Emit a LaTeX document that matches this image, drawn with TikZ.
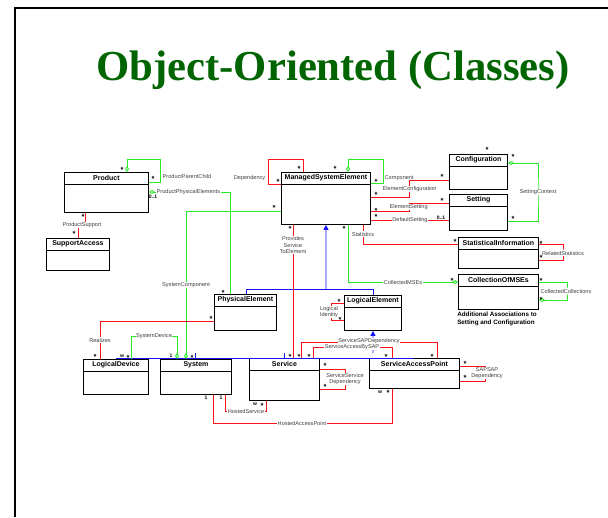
\documentclass[tikz,border=0pt]{standalone}
\usepackage{fontspec}
\setmainfont{Liberation Sans}
\newfontfamily\headfont{Liberation Serif}
\usetikzlibrary{arrows.meta}

\definecolor{assocred}{RGB}{250,20,24}
\definecolor{aggrgreen}{RGB}{40,235,40}
\definecolor{inhblue}{RGB}{20,20,240}
\definecolor{titlegreen}{RGB}{0,100,0}

\newcommand\labfont{\fontsize{5.6}{6.3}\selectfont}

\tikzset{
  umlclass/.style={draw=black, line width=0.9pt, fill=white, inner sep=0pt, rectangle},
  umlhead/.style={font=\bfseries\fontsize{7}{8}\selectfont, inner sep=0pt},
  redline/.style={draw=assocred, line width=0.9pt},
  greenline/.style={draw=aggrgreen, line width=0.9pt},
  blueline/.style={draw=inhblue, line width=0.9pt},
  aggstart/.style={arrows={Diamond[open,length=6pt,width=4pt]-}},
  aggend/.style={arrows={-Diamond[open,length=6pt,width=4pt]}},
  gen/.style={arrows={-Triangle[length=5pt,width=5pt]}},
  lab/.style={font=\labfont, text=black!75, fill=white, inner sep=0.5pt, align=center},
  mult/.style={font=\bfseries\fontsize{7.5}{7.5}\selectfont, inner sep=0pt, yshift=-1.6pt},
  multtxt/.style={font=\bfseries\fontsize{5}{5}\selectfont, inner sep=0pt},
}

% class box: name, left, top, right, bottom, class name
\newcommand\classbox[6]{%
  \node[umlclass, anchor=north west,
        minimum width={(#4-#2)*1pt}, minimum height={(#5-#3)*1pt}] (#1) at (#2,#3) {};
  \draw[line width=0.9pt] ([yshift=-12pt]#1.north west) -- ([yshift=-12pt]#1.north east);
  \node[umlhead] (#1-name) at ([yshift=-6pt]#1.north) {#6};
}

\begin{document}
\begin{tikzpicture}[x=1pt, y=-1pt]
\useasboundingbox (0,0) rectangle (608,517);

% slide frame
\draw[line width=1.5pt] (15,517) -- (15,8) -- (608,8);

\node[font=\headfont\bfseries\fontsize{42.7}{48}\selectfont, text=titlegreen, anchor=base]
  (heading) at (333,80) {Object-Oriented (Classes)};

% classes
\classbox{prod}{64}{172}{148}{212}{Product}
\classbox{supp}{46}{238}{109}{270}{SupportAccess}
\classbox{mse}{281}{172}{370}{224}{ManagedSystemElement}
\classbox{conf}{449}{154}{507}{189}{Configuration}
\classbox{sett}{449}{194}{507}{230}{Setting}
\classbox{stat}{458}{237}{538}{268}{StatisticalInformation}
\classbox{coll}{458}{274}{538}{309}{CollectionOfMSEs}
\classbox{phys}{214}{294}{276}{330}{PhysicalElement}
\classbox{logi}{344}{295}{401}{330}{LogicalElement}
\classbox{ldev}{83}{359}{148}{394}{LogicalDevice}
\classbox{sys}{160}{359}{231}{394}{System}
\classbox{serv}{249}{358}{319}{400}{Service}
\classbox{sap}{369}{358}{459}{388}{ServiceAccessPoint}

\node[font=\bfseries\fontsize{6.3}{7.3}\selectfont, align=left, inner sep=0pt]
  (note) at (497,319) {Additional Associations to\\Setting and Configuration};

% inheritance
\coordinate (physjoin) at (326,289);
\coordinate (logijoin) at (373,353);
\draw[blueline] (phys.north -| 246,0) -- (246,289) -| (logi.north -| 373,0);
\draw[blueline, gen] (physjoin) -- (mse.south);
\draw[blueline] (ldev.north -| 116,0) |- (sap.north -| 414,0);
\draw[blueline] (sys.north -| 195,0) -- (195,353);
\draw[blueline] (serv.north -| 284,0) -- (284,353);
\draw[blueline, gen] (logijoin) -- (logi.south);

% Product associations
\draw[greenline, aggstart] (prod.north -| 127,0) |- (160,159) |- (prod.east |- 0,182);
\node[lab, fill=none, anchor=west] (ppc) at (162,176) {ProductParentChild};
\draw[greenline, aggstart] (prod.east |- 0,192) -| (phys.north -| 230,0);
\node[lab, anchor=west] (ppe) at (156,192) {ProductPhysicalElements};
\draw[redline] (prod.south -| 85,0) |- (78,225) -- (supp.north -| 78,0);
\node[lab] (ps) at (82,225) {ProductSupport};

% ManagedSystemElement associations
\draw[redline] (mse.west |- 0,184) -| (268,159) -| (mse.north -| 303,0);
\node[lab, fill=none, anchor=east] (dep) at (266,178) {Dependency};
\draw[greenline, aggstart] (mse.north -| 348,0) |- (383,159) |- (mse.east |- 0,183);
\node[lab, fill=none, anchor=west] (comp) at (384,178) {Component};
\draw[redline] (mse.east |- 0,197) -| (409,180) -- (conf.west |- 0,180);
\node[lab, anchor=west] (ec) at (382,189) {ElementConfiguration};
\draw[redline] (mse.east |- 0,211) -| (409,203) -- (sett.west |- 0,203);
\node[lab, anchor=west] (es) at (389,207) {ElementSetting};
\draw[redline] (mse.east |- 0,220) -- (sett.west |- 0,220);
\node[lab] (ds) at (410,220) {DefaultSetting};
\draw[greenline, aggstart] (conf.east |- 0,163) -| (538,192) |- (sett.east |- 0,221);
\node[lab] (sc) at (538,192) {SettingContext};
\draw[redline] (mse.south -| 363,0) |- (stat.west |- 0,244);
\node[lab] (st) at (363,234) {Statistics};
\draw[redline] (stat.east |- 0,244) -| (563,252) |- (stat.east |- 0,260);
\node[lab] (rs) at (563,253) {RelatedStatistics};
\draw[greenline, aggend] (mse.south -| 348,0) |- (coll.west |- 0,282);
\node[lab] (cm) at (403,282) {CollectedMSEs};
\draw[greenline, aggend] (coll.east |- 0,282) -| (567,291) |- (coll.east |- 0,300);
\node[lab] (cc) at (566,291) {CollectedCollections};
\draw[greenline, aggend] (mse.west |- 0,211) -| (sys.north -| 186,0);
\node[lab] (syc) at (186,285) {SystemComponent};
\draw[redline] (mse.south -| 293,0) -- (serv.north -| 293,0);
\node[lab] (pse) at (293,245) {Provides\\Service\\ToElement};

% element-level associations
\draw[redline] (phys.west |- 0,321) -| (ldev.north -| 100,0);
\node[lab] (real) at (100,340) {Realizes};
\draw[redline] (logi.west |- 0,303) -| (331,311) |- (logi.west |- 0,320);
\node[lab] (li) at (329,312) {Logical\\Identity};
\draw[greenline, aggend] (ldev.north -| 131,0) |- (177,336) -- (sys.north -| 177,0);
\node[lab] (sd) at (154,336) {SystemDevice};

% Service and ServiceAccessPoint associations
\draw[redline] (serv.north -| 301,0) |- (437,342) -- (sap.north -| 437,0);
\node[lab] (ssd) at (369,341) {ServiceSAPDependency};
\draw[redline] (serv.north -| 313,0) |- (392,347) -- (sap.north -| 392,0);
\node[lab] (sab) at (352,347) {ServiceAccessBySAP};
\draw[redline] (serv.east |- 0,369) -| (345,379) |- (serv.east |- 0,389);
\node[lab] (ssdep) at (345,379) {ServiceService\\Dependency};
\draw[redline] (sap.east |- 0,366) -| (485,373) |- (sap.east |- 0,381);
\node[lab] (sapdep) at (487,373) {SAPSAP\\Dependency};
\draw[redline] (sys.south -| 225,0) |- (266,411) -- (serv.south -| 266,0);
\node[lab] (hs) at (246,411) {HostedService};
\draw[redline] (sys.south -| 213,0) |- (392,423) -- (sap.south -| 392,0);
\node[lab] (hap) at (302,423) {HostedAccessPoint};

% multiplicities
\foreach \p in {(122,168),(153,177),(83,215),(74,232),(299,167),(278,180),
  (335,167),(376,180),(376,193),(442,175),(376,209),(442,199),(376,215),
  (487,148),(513,155),(513,217),(274,206),(290,227),(344,227),(455,240),
  (541,242),(541,256),(452,279),(541,279),(541,298),(223,291),(211,317),
  (339,300),(340,318),(95,355),(128,356),(192,356),(290,355),(299,355),
  (309,355),(386,355),(432,355),(325,364),(325,385),(465,362),(465,376),
  (262,404),(388,391)}
  \node[mult] at \p {*};
\node[multtxt] (m01a) at (153,197) {0..1};
\node[multtxt] (m01b) at (441,218) {0..1};
\node[multtxt] (mw1) at (122,356) {w};
\node[multtxt] (mw2) at (255,404) {w};
\node[multtxt] (mw3) at (380,392) {w};
\node[multtxt] (m1a) at (171,356) {1};
\node[multtxt] (m1b) at (206,398) {1};
\node[multtxt] (m1c) at (221,398) {1};
\end{tikzpicture}
\end{document}
